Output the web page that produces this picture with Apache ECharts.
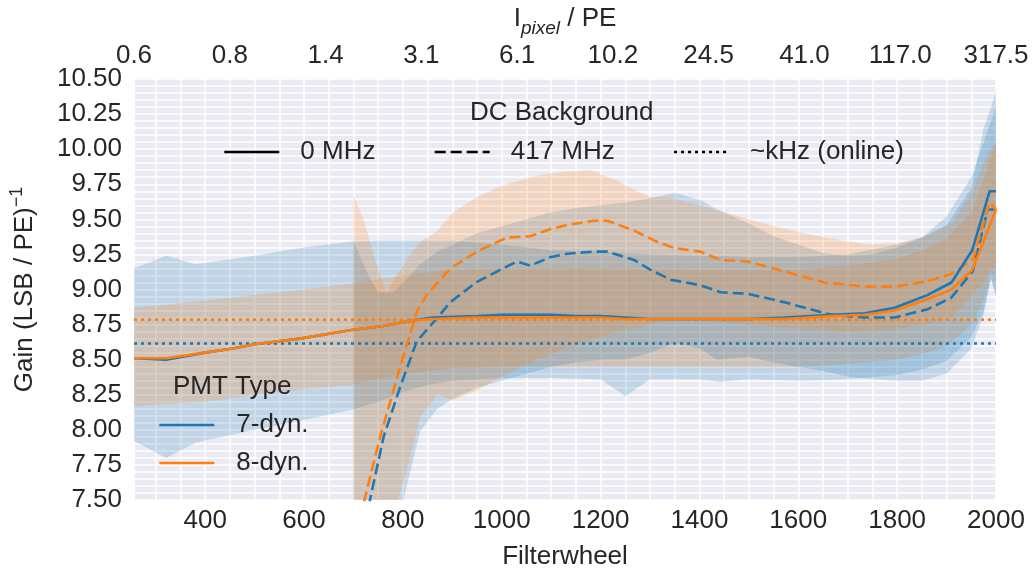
<!DOCTYPE html>
<html><head><meta charset="utf-8">
<script src="https://cdn.jsdelivr.net/npm/echarts@6/dist/echarts.min.js"></script>
<style>html,body{margin:0;padding:0;background:#fff}#c{width:1034px;height:575px}</style>
</head><body><div id="c"></div>
<script>
const xMin = 256, xMax = 2000;
const yMin = 7.5, yMax = 10.5;
const topLabels = ['0.6','0.8','1.4','3.1','6.1','10.2','24.5','41.0','117.0','317.5'];

// 0 MHz (solid)
const solidX = [256, 321, 400, 456, 500, 592, 693, 760, 821, 861, 950, 1000, 1050, 1100, 1150, 1200, 1250, 1300, 1400, 1500, 1572, 1667, 1734, 1795, 1861, 1910, 1952, 1987, 2000];
const solid7 = [8.51, 8.50, 8.55, 8.58, 8.61, 8.65, 8.71, 8.74, 8.78, 8.80, 8.81, 8.82, 8.82, 8.82, 8.81, 8.81, 8.80, 8.79, 8.79, 8.79, 8.80, 8.82, 8.83, 8.87, 8.96, 9.05, 9.28, 9.70, 9.70];
const solid8 = [8.51, 8.51, 8.55, 8.58, 8.61, 8.65, 8.71, 8.74, 8.78, 8.79, 8.80, 8.80, 8.80, 8.80, 8.80, 8.80, 8.79, 8.79, 8.79, 8.79, 8.79, 8.81, 8.82, 8.85, 8.93, 9.00, 9.14, 9.45, 9.57];

// 417 MHz (dashed)
const dash7X = [700, 734, 761, 794, 828, 869, 896, 950, 997, 1031, 1058, 1098, 1132, 1187, 1214, 1268, 1301, 1342, 1402, 1443, 1497, 1571, 1666, 1734, 1795, 1862, 1909, 1953, 1983, 2000];
const dash7 = [6.9, 7.51, 7.95, 8.30, 8.63, 8.795, 8.91, 9.055, 9.14, 9.20, 9.17, 9.23, 9.255, 9.27, 9.27, 9.21, 9.14, 9.07, 9.03, 8.98, 8.97, 8.91, 8.82, 8.80, 8.80, 8.86, 8.94, 9.13, 9.57, 9.57];
const dash8X = [700, 723, 754, 788, 828, 848, 896, 950, 1010, 1058, 1098, 1132, 1187, 1214, 1268, 1308, 1349, 1402, 1443, 1497, 1571, 1653, 1734, 1795, 1862, 1909, 1953, 1987, 2000];
const dash8 = [7.15, 7.51, 7.95, 8.37, 8.84, 8.96, 9.15, 9.27, 9.37, 9.38, 9.43, 9.46, 9.49, 9.49, 9.42, 9.35, 9.295, 9.27, 9.21, 9.20, 9.13, 9.05, 9.02, 9.02, 9.06, 9.11, 9.21, 9.62, 9.57];

// ~kHz online (dotted)
const online7 = 8.615;
const online8 = 8.785;

// uncertainty bands
const band7X  = [256, 321, 381, 500, 600, 693, 750, 800, 850, 900, 1000, 1100, 1200, 1250, 1300, 1400, 1440, 1500, 1600, 1700, 1800, 1850, 1900, 1950, 1975, 1990, 2000];
const band7Lo = [7.92, 7.80, 7.91, 8.00, 8.07, 8.14, 8.20, 8.27, 8.32, 8.35, 8.37, 8.37, 8.36, 8.24, 8.36, 8.36, 8.34, 8.36, 8.35, 8.36, 8.39, 8.43, 8.49, 8.66, 8.85, 9.08, 8.95];
const band7Hi = [9.15, 9.24, 9.18, 9.24, 9.30, 9.34, 9.35, 9.35, 9.35, 9.35, 9.32, 9.28, 9.27, 9.26, 9.25, 9.24, 9.24, 9.23, 9.23, 9.25, 9.32, 9.37, 9.46, 9.72, 10.15, 10.30, 10.41];

const band8X  = [256, 400, 500, 600, 693, 800, 900, 1000, 1200, 1400, 1600, 1700, 1800, 1850, 1900, 1950, 1975, 1990, 2000];
const band8Lo = [8.17, 8.20, 8.25, 8.29, 8.32, 8.40, 8.44, 8.45, 8.45, 8.45, 8.45, 8.47, 8.50, 8.54, 8.60, 8.75, 8.92, 9.12, 9.05];
const band8Hi = [8.87, 8.92, 8.96, 9.00, 9.04, 9.10, 9.14, 9.15, 9.15, 9.14, 9.14, 9.17, 9.22, 9.28, 9.36, 9.55, 9.78, 9.95, 10.05];

const band7dX  = [700, 730, 750, 780, 801, 815, 835, 870, 900, 950, 1000, 1050, 1100, 1150, 1200, 1250, 1300, 1350, 1400, 1436, 1500, 1550, 1600, 1650, 1700, 1750, 1800, 1850, 1900, 1950, 1975, 1990, 2000];
const band7dLo = [5.0, 5.8, 6.3, 7.0, 7.5, 7.7, 7.99, 8.15, 8.22, 8.30, 8.35, 8.40, 8.45, 8.48, 8.50, 8.50, 8.55, 8.62, 8.58, 8.50, 8.52, 8.48, 8.45, 8.42, 8.38, 8.36, 8.35, 8.35, 8.40, 8.58, 8.82, 9.08, 8.95];
const band7dHi = [9.35, 9.10, 8.98, 8.98, 9.05, 9.10, 9.18, 9.27, 9.32, 9.40, 9.45, 9.50, 9.55, 9.58, 9.60, 9.62, 9.65, 9.69, 9.64, 9.57, 9.47, 9.38, 9.32, 9.26, 9.24, 9.25, 9.30, 9.37, 9.52, 9.80, 10.05, 10.20, 10.30];

const band8dX  = [700, 720, 745, 766, 790, 815, 835, 870, 902, 950, 1000, 1070, 1130, 1180, 1230, 1268, 1300, 1335, 1400, 1470, 1530, 1600, 1670, 1740, 1800, 1860, 1910, 1950, 1975, 1990, 2000];
const band8dLo = [5.0, 5.8, 6.6, 7.1, 7.5, 7.8, 8.09, 8.25, 8.21, 8.28, 8.38, 8.50, 8.58, 8.64, 8.70, 8.72, 8.75, 8.78, 8.78, 8.76, 8.74, 8.72, 8.70, 8.70, 8.72, 8.75, 8.80, 8.95, 9.05, 9.15, 9.15];
const band8dHi = [9.67, 9.50, 9.20, 8.97, 9.12, 9.25, 9.34, 9.42, 9.55, 9.66, 9.74, 9.81, 9.84, 9.85, 9.78, 9.71, 9.66, 9.66, 9.60, 9.53, 9.47, 9.41, 9.36, 9.32, 9.33, 9.38, 9.47, 9.68, 9.90, 10.00, 10.05];

const BLUE = '#1f77b4', ORANGE = '#ff7f0e', TXT = '#262626';
const FONT = 'Liberation Sans, Arial, sans-serif';

function bandSeries(xs, lo, hi, color) {
  return {
    type: 'custom', clip: true, silent: true, z: 1,
    data: xs.map((x, i) => [x, lo[i], hi[i]]),
    encode: { x: 0, y: [1, 2] },
    renderItem: function (params, api) {
      if (params.dataIndex !== 0) return null;
      const pts = [];
      for (let i = 0; i < xs.length; i++) pts.push(api.coord([xs[i], hi[i]]));
      for (let i = xs.length - 1; i >= 0; i--) pts.push(api.coord([xs[i], lo[i]]));
      return { type: 'polygon', shape: { points: pts }, style: { fill: color } };
    }
  };
}
function lineSeries(name, xs, ys, color, type) {
  return {
    type: 'line', name: name, data: xs.map((x, i) => [x, ys[i]]),
    symbol: 'none', clip: true, z: 3, silent: true,
    lineStyle: { color: color, width: 2.6, type: type, cap: 'butt' },
    itemStyle: { color: color }
  };
}

const legendItemStyle = { opacity: 0, color: 'rgba(0,0,0,0)', borderWidth: 0 };
const legendLineStyle = { width: 2.6 };

const chart = echarts.init(document.getElementById('c'), null, { renderer: 'canvas' });
chart.setOption({
  animation: false,
  backgroundColor: '#ffffff',
  textStyle: { fontFamily: FONT, color: TXT },
  grid: { left: 134, right: 38, top: 79, bottom: 72, show: true, backgroundColor: '#EAEAF2', borderWidth: 0 },
  title: [
    { text: 'DC Background', left: 465, top: 95, textStyle: { fontSize: 26, fontWeight: 'normal', color: TXT, fontFamily: FONT } },
    { text: 'PMT Type', left: 168, top: 369, textStyle: { fontSize: 26, fontWeight: 'normal', color: TXT, fontFamily: FONT } }
  ],
  legend: [
    { data: ['0 MHz', '417 MHz', '~kHz (online)'], orient: 'horizontal', left: 223, top: 139, padding: 0,
      itemWidth: 55, itemHeight: 14, itemGap: 58, selectedMode: false,
      itemStyle: legendItemStyle, lineStyle: legendLineStyle,
      textStyle: { fontSize: 26, color: TXT, fontFamily: FONT, padding: [0, 0, 0, 16] } },
    { data: ['7-dyn.', '8-dyn.'], orient: 'vertical', left: 158, top: 412, padding: 0,
      itemWidth: 55, itemHeight: 14, itemGap: 12, selectedMode: false,
      itemStyle: legendItemStyle, lineStyle: legendLineStyle,
      textStyle: { fontSize: 26, color: TXT, fontFamily: FONT, padding: [0, 0, 0, 17] } }
  ],
  xAxis: [
    { type: 'value', min: xMin, max: xMax, minInterval: 50, maxInterval: 50, position: 'bottom',
      axisLine: { show: false }, axisTick: { show: false },
      axisLabel: { fontSize: 26, color: TXT, margin: 8, formatter: v => (v % 200 === 0 ? String(v) : '') },
      splitLine: { show: true, lineStyle: { color: '#ffffff', width: 1.5 } },
      name: 'Filterwheel', nameLocation: 'middle', nameGap: 44,
      nameTextStyle: { fontSize: 26, color: TXT } },
    { type: 'value', min: 0, max: 9, interval: 1, position: 'top',
      axisLine: { show: false }, axisTick: { show: false }, splitLine: { show: false },
      axisLabel: { fontSize: 26, color: TXT, margin: 10, formatter: v => topLabels[Math.round(v)] },
      name: '{a|I}{b|pixel}{a| / PE}', nameLocation: 'middle', nameGap: 42,
      nameTextStyle: { rich: {
        a: { fontSize: 26, lineHeight: 26, verticalAlign: 'top', color: TXT, fontFamily: FONT },
        b: { fontSize: 19, lineHeight: 19, verticalAlign: 'top', fontStyle: 'italic', padding: [13, 0, 0, 0], color: TXT, fontFamily: FONT }
      } } }
  ],
  yAxis: {
    type: 'value', min: yMin, max: yMax, interval: 0.25,
    axisLine: { show: false }, axisTick: { show: false },
    axisLabel: { fontSize: 26, color: TXT, margin: 12, formatter: v => v.toFixed(2) },
    splitLine: { show: true, lineStyle: { color: '#ffffff', width: 1.5 } },
    minorTick: { show: true, splitNumber: 5, length: 0 },
    minorSplitLine: { show: true, lineStyle: { color: '#ffffff', width: 1.5 } },
    name: '{g|Gain (LSB / PE)}{s|−1}', nameLocation: 'middle', nameGap: 96,
    nameTextStyle: { rich: {
      g: { fontSize: 26, lineHeight: 30, verticalAlign: 'bottom', color: TXT, fontFamily: FONT },
      s: { fontSize: 18, lineHeight: 18, verticalAlign: 'top', color: TXT, fontFamily: FONT }
    } }
  },
  series: [
    bandSeries(band7X, band7Lo, band7Hi, 'rgba(31,119,180,0.2)'),
    bandSeries(band8X, band8Lo, band8Hi, 'rgba(255,127,14,0.2)'),
    bandSeries(band7dX, band7dLo, band7dHi, 'rgba(31,119,180,0.2)'),
    bandSeries(band8dX, band8dLo, band8dHi, 'rgba(255,127,14,0.2)'),
    lineSeries('online7', [xMin, xMax], [online7, online7], BLUE, [3, 4]),
    lineSeries('online8', [xMin, xMax], [online8, online8], ORANGE, [3, 4]),
    lineSeries('dash7', dash7X, dash7, BLUE, [11, 5]),
    lineSeries('dash8', dash8X, dash8, ORANGE, [11, 5]),
    lineSeries('7-dyn.', solidX, solid7, BLUE, 'solid'),
    lineSeries('8-dyn.', solidX, solid8, ORANGE, 'solid'),
    lineSeries('0 MHz', [], [], '#000000', 'solid'),
    lineSeries('417 MHz', [], [], '#000000', [11, 5]),
    lineSeries('~kHz (online)', [], [], '#000000', [3, 4])
  ]
});
</script>
</body></html>
